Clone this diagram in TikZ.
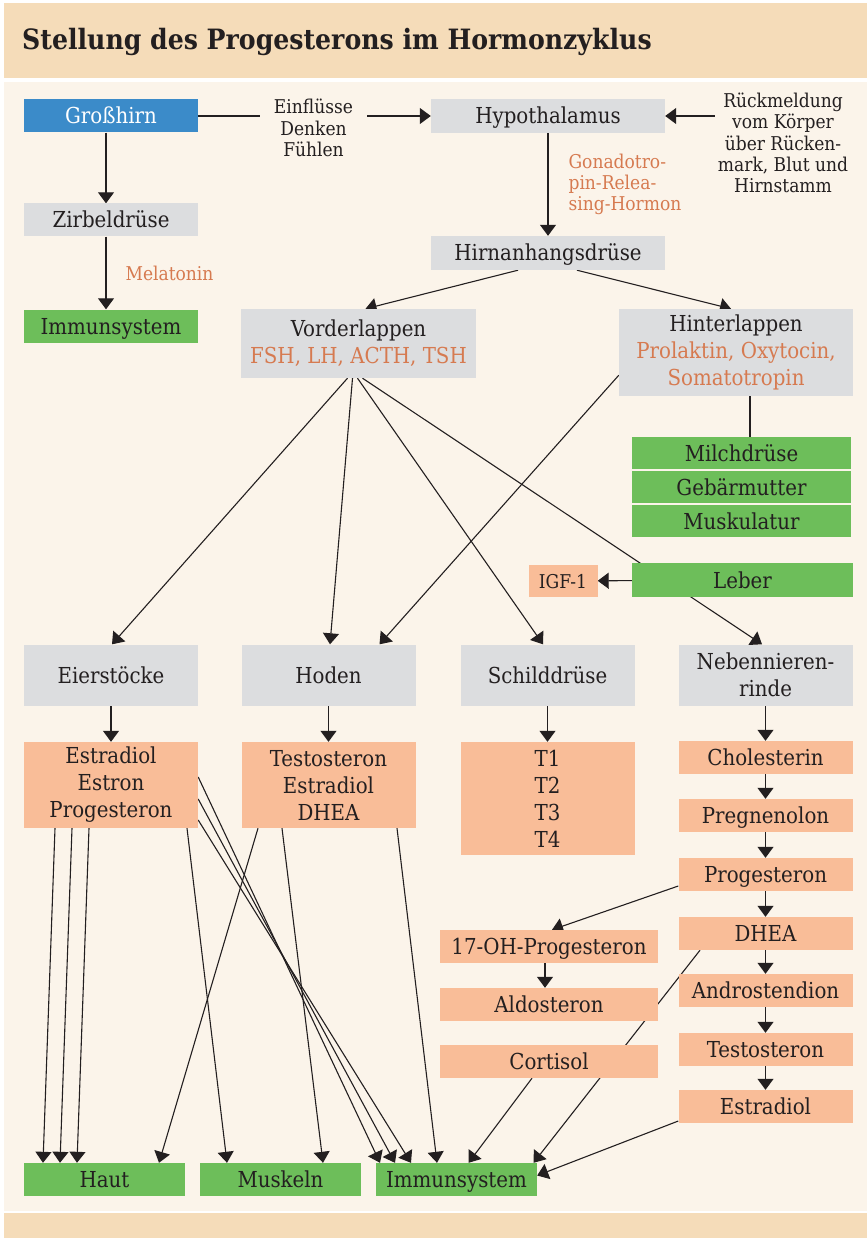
\documentclass[tikz,border=0pt]{standalone}
\usepackage{fontspec}
\setmainfont{DejaVu Serif Condensed}
\usetikzlibrary{arrows.meta}
\definecolor{bandtan}{HTML}{F5DCB9}
\definecolor{creambg}{HTML}{FBF4EA}
\definecolor{organgray}{HTML}{DCDDDF}
\definecolor{brainblue}{HTML}{3B8BC9}
\definecolor{targetgreen}{HTML}{6DBE5A}
\definecolor{hormsalmon}{HTML}{F9BD98}
\definecolor{hormtext}{HTML}{D67A50}
\definecolor{inktext}{HTML}{231F20}
\pgfdeclarelayer{bg}
\pgfdeclarelayer{lines}
\pgfsetlayers{bg,lines,main}

\begin{document}
\begin{tikzpicture}[x=1pt,y=-1pt,box/.style={rectangle,inner sep=0pt,align=center,text=inktext,minimum width=174pt,minimum height=33pt,text height=18pt,text depth=2pt,font=\fontsize{22}{27}\selectfont},multi/.style={text height=,text depth=},organ/.style={box,fill=organgray},brain/.style={box,fill=brainblue,text=white},target/.style={box,fill=targetgreen},hormone/.style={box,fill=hormsalmon},note/.style={inner sep=0pt,align=center,text=inktext,font=\fontsize{19}{21.3}\selectfont},hlabel/.style={inner sep=0pt,align=left,text=hormtext,font=\fontsize{19}{21.3}\selectfont},every edge/.style={draw,inktext,line width=1.1pt,-{Triangle[width=16pt,length=11pt]}},plain/.style={-}]
\useasboundingbox (0,0) rectangle (867,1238);
\begin{pgfonlayer}{bg}
\fill[bandtan] (4,3) rectangle (867,78);
\fill[creambg] (4,82) rectangle (867,1211);
\fill[bandtan] (4,1213) rectangle (867,1238);
\end{pgfonlayer}
\node[anchor=west,inner sep=0pt,text=inktext,font=\fontsize{28}{30}\selectfont\bfseries] (title) at (22,42) {Stellung des Progesterons im Hormonzyklus};
% top part
\node[brain] (gross) at (111,116) {Großhirn};
\node[organ] (zirbel) at (111,220) {Zirbeldrüse};
\node[target] (immtop) at (111,326) {Immunsystem};
\node[note,minimum width=107pt] (einfl) at (313.5,128) {Einflüsse\\Denken\\Fühlen};
\node[organ,minimum width=234pt,minimum height=34pt] (hypo) at (548,116) {Hypothalamus};
\node[note,minimum width=136pt] (rueck) at (783,143) {Rückmeldung\\vom Körper\\über Rücken-\\mark, Blut und\\Hirnstamm};
\node[organ,minimum width=234pt,minimum height=34pt] (hirnan) at (548,253) {Hirnanhangsdrüse};
\node[organ,multi,minimum width=235pt,minimum height=69pt] (vorder) at (358.5,343.5) {Vorderlappen\\\textcolor{hormtext}{FSH, LH, ACTH, TSH}};
\node[organ,multi,minimum width=234pt,minimum height=87pt] (hinter) at (736,352.5) {Hinterlappen\\\textcolor{hormtext}{Prolaktin, Oxytocin,}\\\textcolor{hormtext}{Somatotropin}};
\node[target,minimum width=219pt,minimum height=32pt] (milch) at (741.5,453) {Milchdrüse};
\node[target,minimum width=219pt,minimum height=32pt] (gebaer) at (741.5,487) {Gebärmutter};
\node[target,minimum width=219pt,minimum height=32pt] (muskul) at (741.5,521) {Muskulatur};
\node[target,minimum width=221pt,minimum height=34pt] (leber) at (742.5,580) {Leber};
\node[hormone,minimum width=69pt,minimum height=32pt,text height=16pt,font=\fontsize{19}{21}\selectfont] (igf) at (563,581) {IGF-1};
% glands
\node[organ,minimum height=61pt] (eier) at (111,675) {Eierstöcke};
\node[organ,minimum height=61pt] (hoden) at (328.5,675) {Hoden};
\node[organ,minimum height=61pt] (schild) at (547.5,675) {Schilddrüse};
\node[organ,multi,minimum height=61pt] (nnr) at (765.5,675) {Nebennieren-\\rinde};
% hormones
\node[hormone,multi,minimum height=86pt] (estA) at (111,785) {Estradiol\\Estron\\Progesteron};
\node[hormone,multi,minimum height=86pt] (testoA) at (328.5,785) {Testosteron\\Estradiol\\DHEA};
\node[hormone,multi,minimum height=113pt] (tbox) at (547.5,798.5) {T1\\T2\\T3\\T4};
\node[hormone] (chol) at (765.5,757.5) {Cholesterin};
\node[hormone] (pregn) at (765.5,815.5) {Pregnenolon};
\node[hormone] (progB) at (765.5,874.5) {Progesteron};
\node[hormone] (dhea) at (765.5,933.5) {DHEA};
\node[hormone] (andro) at (765.5,990.5) {Androstendion};
\node[hormone] (testoB) at (765.5,1049.5) {Testosteron};
\node[hormone] (estB) at (765.5,1106.5) {Estradiol};
\node[hormone,minimum width=218pt] (ohprog) at (549,946.5) {17-OH-Progesteron};
\node[hormone,minimum width=218pt] (aldo) at (549,1004.5) {Aldosteron};
\node[hormone,minimum width=218pt] (cort) at (549,1061.5) {Cortisol};
% targets
\node[target,minimum width=161pt] (haut) at (104.5,1179.5) {Haut};
\node[target,minimum width=161pt] (muskeln) at (280.5,1179.5) {Muskeln};
\node[target,minimum width=161pt] (immbot) at (456.5,1179.5) {Immunsystem};
\begin{pgfonlayer}{lines}
\path (gross) edge[plain] (gross.east -| einfl.west);
\path (einfl.east |- hypo) edge (hypo);
\path (rueck.west |- hypo) edge (hypo);
\path (hypo) edge node[hlabel,midway,right=20pt] {Gonadotro-\\pin-Relea-\\sing-Hormon} (hirnan);
\path ([xshift=-5pt]gross.south) edge ([xshift=-5pt]zirbel.north);
\path ([xshift=-5pt]zirbel.south) edge node[hlabel,midway,right=19pt] {Melatonin} ([xshift=-5pt]immtop.north);
\path ([xshift=-30pt]hirnan.south) edge ([xshift=7pt]vorder.north);
\path ([xshift=29pt]hirnan.south) edge ([xshift=-5pt]hinter.north);
\path ([xshift=14pt]hinter.south) edge[plain,line width=2.6pt] ([xshift=14pt]hinter.south |- milch.north);
\path ([xshift=-11pt]vorder.south) edge ([xshift=1pt]eier.north);
\path ([xshift=-6pt]vorder.south) edge ([xshift=1.5pt]hoden.north);
\path ([xshift=-1pt]vorder.south) edge ([xshift=-4.5pt]schild.north);
\path ([xshift=4pt]vorder.south) edge ([xshift=-3.5pt]nnr.north);
\path ([yshift=21pt]hinter.south west) edge ([xshift=51pt]hoden.north);
\path (leber) edge (igf);
\path (eier) edge (estA);
\path (hoden) edge (testoA);
\path (schild) edge (tbox);
\path (nnr) edge (chol);
\path (chol) edge (pregn);
\path (pregn) edge (progB);
\path (progB) edge (dhea);
\path (dhea) edge (andro);
\path (andro) edge (testoB);
\path (testoB) edge (estB);
\path ([yshift=-11.5pt]progB.west) edge ([xshift=3pt]ohprog.north);
\path ([xshift=-4pt]ohprog.south) edge ([xshift=-4pt]aldo.north);
% to targets
\path ([xshift=-56pt]estA.south) edge ([xshift=-61.5pt]haut.north);
\path ([xshift=-39pt]estA.south) edge ([xshift=-44.5pt]haut.north);
\path ([xshift=-22pt]estA.south) edge ([xshift=-27.5pt]haut.north);
\path ([xshift=76pt]estA.south) edge ([xshift=-53.5pt]muskeln.north);
\path ([yshift=8pt]estA.east) edge ([xshift=-76.5pt]immbot.north);
\path ([yshift=-14pt]estA.east) edge ([xshift=-61.5pt]immbot.north);
\path ([yshift=-35pt]estA.east) edge ([xshift=-45.5pt]immbot.north);
\path ([xshift=-70.5pt]testoA.south) edge ([xshift=54.5pt]haut.north);
\path ([xshift=-46.5pt]testoA.south) edge ([xshift=42.5pt]muskeln.north);
\path ([xshift=68.5pt]testoA.south) edge ([xshift=-19.5pt]immbot.north);
\path ([xshift=-17pt]cort.south) edge ([xshift=12pt]immbot.north);
\path ([xshift=-65.5pt]dhea.south) edge ([xshift=77pt]immbot.north);
\path ([yshift=-14.5pt]estB.west) edge ([yshift=4pt]immbot.east);
\end{pgfonlayer}
\end{tikzpicture}
\end{document}
